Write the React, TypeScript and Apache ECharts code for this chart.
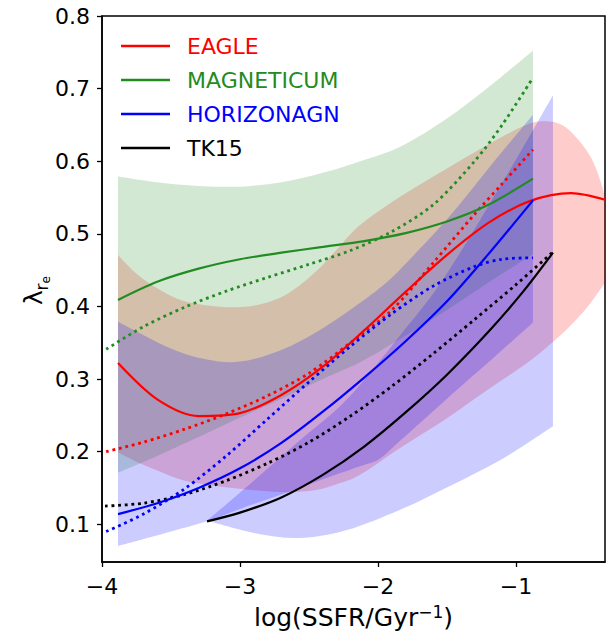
import React, { useEffect, useRef } from 'react';
import * as echarts from 'echarts';

const FONT = 'DejaVu Sans';
const X_MIN = -4;
const X_MAX = -0.355;
const Y_MIN = 0.048;
const Y_MAX = 0.8;
const xTicks = [-4, -3, -2, -1];
const yTicks = [0.1, 0.2, 0.3, 0.4, 0.5, 0.6, 0.7, 0.8];

// ---- curves: [x, y]
const eagleSolid = [[-3.884, 0.322], [-3.6, 0.272], [-3.3, 0.249], [-3.0, 0.253], [-2.7, 0.278], [-2.4, 0.317], [-2.1, 0.367], [-1.8, 0.42], [-1.5, 0.471], [-1.2, 0.515], [-0.9, 0.545], [-0.6, 0.556], [-0.355, 0.547]];
const eagleDotted = [[-3.97, 0.2], [-3.7, 0.213], [-3.4, 0.231], [-3.1, 0.252], [-2.8, 0.277], [-2.5, 0.308], [-2.2, 0.35], [-1.9, 0.395], [-1.6, 0.46], [-1.3, 0.527], [-1.1, 0.569], [-0.877, 0.616]];
const magSolid = [[-3.884, 0.409], [-3.6, 0.434], [-3.3, 0.452], [-3.0, 0.465], [-2.7, 0.474], [-2.4, 0.482], [-2.1, 0.49], [-1.8, 0.501], [-1.5, 0.517], [-1.2, 0.54], [-0.877, 0.576]];
const magDotted = [[-3.97, 0.341], [-3.7, 0.372], [-3.4, 0.399], [-3.1, 0.421], [-2.8, 0.44], [-2.5, 0.458], [-2.2, 0.477], [-1.9, 0.503], [-1.6, 0.54], [-1.3, 0.6], [-1.1, 0.65], [-0.877, 0.715]];
const hagnSolid = [[-3.884, 0.114], [-3.6, 0.129], [-3.3, 0.15], [-3.0, 0.177], [-2.7, 0.212], [-2.4, 0.255], [-2.1, 0.302], [-1.8, 0.352], [-1.5, 0.407], [-1.2, 0.472], [-0.877, 0.546]];
const hagnDotted = [[-3.97, 0.09], [-3.7, 0.114], [-3.4, 0.149], [-3.1, 0.194], [-2.8, 0.245], [-2.5, 0.296], [-2.2, 0.345], [-1.9, 0.39], [-1.6, 0.428], [-1.3, 0.455], [-1.1, 0.465], [-0.877, 0.467]];
const tkSolid = [[-3.239, 0.104], [-3.0, 0.116], [-2.7, 0.137], [-2.4, 0.168], [-2.1, 0.207], [-1.8, 0.254], [-1.5, 0.306], [-1.2, 0.365], [-0.95, 0.42], [-0.732, 0.474]];
const tkDotted = [[-3.978, 0.125], [-3.7, 0.129], [-3.4, 0.141], [-3.1, 0.16], [-2.8, 0.184], [-2.5, 0.213], [-2.2, 0.249], [-1.9, 0.29], [-1.6, 0.335], [-1.3, 0.382], [-1.0, 0.43], [-0.732, 0.475]];

// ---- bands
const redBandX = [-3.884, -3.75, -3.6, -3.4, -3.1, -2.85, -2.65, -2.45, -2.3, -2.13, -1.84, -1.5, -1.2, -0.95, -0.8, -0.65, -0.5, -0.42, -0.355];
const redBandUpper = [0.471, 0.445, 0.425, 0.407, 0.399, 0.403, 0.418, 0.448, 0.478, 0.512, 0.551, 0.59, 0.623, 0.648, 0.655, 0.648, 0.618, 0.59, 0.552];
const redBandLower = [0.199, 0.186, 0.174, 0.16, 0.151, 0.146, 0.144, 0.147, 0.155, 0.168, 0.205, 0.246, 0.286, 0.318, 0.34, 0.365, 0.395, 0.415, 0.433];

const greenBandX = [-3.884, -3.6, -3.3, -3.0, -2.7, -2.4, -2.13, -1.84, -1.5, -1.2, -0.877];
const greenBandUpper = [0.579, 0.571, 0.566, 0.565, 0.571, 0.584, 0.6, 0.62, 0.659, 0.702, 0.752];
const greenBandLower = [0.171, 0.194, 0.22, 0.247, 0.273, 0.3, 0.323, 0.355, 0.395, 0.433, 0.472];

const hagnBandX = [-3.884, -3.5, -3.24, -3.0, -2.7, -2.4, -2.13, -1.99, -1.84, -1.5, -1.2, -0.877];
const hagnBandUpper = [0.379, 0.342, 0.327, 0.324, 0.34, 0.37, 0.405, 0.425, 0.451, 0.52, 0.59, 0.664];
const hagnBandLower = [0.07, 0.09, 0.104, 0.121, 0.141, 0.162, 0.18, 0.19, 0.215, 0.273, 0.323, 0.378];

const tkBandX = [-3.239, -2.9, -2.57, -2.225, -1.84, -1.53, -1.1, -0.732];
const tkBandUpper = [0.105, 0.16, 0.215, 0.272, 0.36, 0.437, 0.57, 0.691];
const tkBandLower = [0.105, 0.088, 0.081, 0.092, 0.12, 0.148, 0.19, 0.235];

const RED = '#ff0000';
const GREEN = '#228b22';
const BLUE = '#0000ff';
const BLACK = '#000000';

function smoothSeg(pts: number[][]): string {
  let d = '';
  for (let i = 0; i < pts.length - 1; i++) {
    const p0 = pts[i - 1] || pts[i];
    const p1 = pts[i];
    const p2 = pts[i + 1];
    const p3 = pts[i + 2] || p2;
    const c1x = p1[0] + (p2[0] - p0[0]) / 6;
    const c1y = p1[1] + (p2[1] - p0[1]) / 6;
    const c2x = p2[0] - (p3[0] - p1[0]) / 6;
    const c2y = p2[1] - (p3[1] - p1[1]) / 6;
    d += ` C ${c1x} ${c1y} ${c2x} ${c2y} ${p2[0]} ${p2[1]}`;
  }
  return d;
}

function bandSeries(name: string, xs: number[], lo: number[], hi: number[], fill: string) {
  return {
    type: 'custom',
    name,
    silent: true,
    clip: true,
    z: 1,
    data: [[xs[0], lo[0]]],
    renderItem: (_params: any, api: any) => {
      const up = xs.map((x, i) => api.coord([x, hi[i]]));
      const down = xs.map((x, i) => api.coord([x, lo[i]])).reverse();
      let d = `M ${up[0][0]} ${up[0][1]}` + smoothSeg(up);
      d += ` L ${down[0][0]} ${down[0][1]}` + smoothSeg(down) + ' Z';
      return { type: 'path', shape: { pathData: d }, style: { fill, stroke: null } };
    },
  };
}

function lineSeries(name: string, data: number[][], color: string, dotted: boolean) {
  return {
    type: 'line',
    name,
    data,
    symbol: 'none',
    smooth: 0.3,
    silent: true,
    z: 3,
    itemStyle: { color },
    lineStyle: { color, width: dotted ? 2.8 : 2.2, type: dotted ? [2.8, 3.8] : 'solid', cap: 'butt' },
  };
}

const fmtX = (v: number) => (v < 0 ? '\u2212' + Math.abs(v) : String(v));

export default function App() {
  const ref = useRef<HTMLDivElement>(null);
  useEffect(() => {
    if (!ref.current) return;
    const chart = echarts.init(ref.current, null, { renderer: 'svg' });
    const option: any = {
      animation: false,
      backgroundColor: '#ffffff',
      grid: {
        left: 102, top: 16, right: 5, bottom: 73, show: true, borderColor: '#000', borderWidth: 1.5,
        backgroundColor: 'transparent', containLabel: false, outerBoundsMode: 'none',
      },
      xAxis: {
        type: 'value', min: X_MIN, max: X_MAX,
        splitLine: { show: false },
        axisLine: { show: true, onZero: false, lineStyle: { color: '#000', width: 1.5 } },
        axisTick: { show: true, length: 5, customValues: xTicks, lineStyle: { color: '#000', width: 1.3 } },
        axisLabel: { customValues: xTicks, formatter: fmtX, fontSize: 22, color: '#000', margin: 13, fontFamily: FONT },
        name: '{a|log(SSFR/Gyr}{b|\u22121}{a|)}',
        nameLocation: 'middle', nameGap: 41,
        nameTextStyle: {
          color: '#000', fontFamily: FONT,
          rich: {
            a: { fontSize: 25, fontFamily: FONT, color: '#000', lineHeight: 28 },
            b: { fontSize: 17, fontFamily: FONT, color: '#000', lineHeight: 17, verticalAlign: 'top' },
          },
        },
      },
      yAxis: {
        type: 'value', min: Y_MIN, max: Y_MAX,
        splitLine: { show: false },
        axisLine: { show: true, onZero: false, lineStyle: { color: '#000', width: 1.5 } },
        axisTick: { show: true, length: 5, customValues: yTicks, lineStyle: { color: '#000', width: 1.3 } },
        axisLabel: { customValues: yTicks, formatter: (v: number) => v.toFixed(1), fontSize: 22, color: '#000', margin: 12, fontFamily: FONT },
      },
      legend: {
        data: [
          { name: 'EAGLE', textStyle: { color: RED } },
          { name: 'MAGNETICUM', textStyle: { color: GREEN } },
          { name: 'HORIZONAGN', textStyle: { color: BLUE } },
          { name: 'TK15', textStyle: { color: BLACK } },
        ],
        icon: 'rect',
        orient: 'vertical', left: 121, top: 35, padding: 0,
        itemWidth: 49, itemHeight: 2.4, itemGap: 12,
        selectedMode: false,
        textStyle: { fontSize: 22, fontFamily: FONT, lineHeight: 22, padding: [0, 0, 0, 12] },
      },
      graphic: [
        {
          type: 'group', x: 33.4, y: 305, rotation: Math.PI / 2,
          children: [
            { type: 'text', x: 0, y: 0, style: { text: '\u03bb', fontSize: 25, fontFamily: FONT, fill: '#000', align: 'left', verticalAlign: 'middle' } },
            { type: 'text', x: 14.5, y: 8.7, style: { text: 'r', fontSize: 17, fontFamily: FONT, fill: '#000', align: 'left', verticalAlign: 'middle' } },
            { type: 'text', x: 21.5, y: 12.8, style: { text: 'e', fontSize: 12, fontFamily: FONT, fill: '#000', align: 'left', verticalAlign: 'middle' } },
          ],
        },
      ],
      series: [
        bandSeries('EAGLE band', redBandX, redBandLower, redBandUpper, 'rgba(255,0,0,0.2)'),
        bandSeries('MAGNETICUM band', greenBandX, greenBandLower, greenBandUpper, 'rgba(34,139,34,0.2)'),
        bandSeries('HORIZONAGN band', hagnBandX, hagnBandLower, hagnBandUpper, 'rgba(0,0,255,0.2)'),
        bandSeries('TK15 band', tkBandX, tkBandLower, tkBandUpper, 'rgba(0,0,255,0.2)'),
        lineSeries('EAGLE dotted', eagleDotted, RED, true),
        lineSeries('MAGNETICUM dotted', magDotted, GREEN, true),
        lineSeries('HORIZONAGN dotted', hagnDotted, BLUE, true),
        lineSeries('TK15 dotted', tkDotted, BLACK, true),
        lineSeries('EAGLE', eagleSolid, RED, false),
        lineSeries('MAGNETICUM', magSolid, GREEN, false),
        lineSeries('HORIZONAGN', hagnSolid, BLUE, false),
        lineSeries('TK15', tkSolid, BLACK, false),
      ],
    };
    chart.setOption(option);
    return () => chart.dispose();
  }, []);
  return <div ref={ref} style={{ position: 'fixed', left: 0, top: 0, width: 610, height: 635 }} />;
}
